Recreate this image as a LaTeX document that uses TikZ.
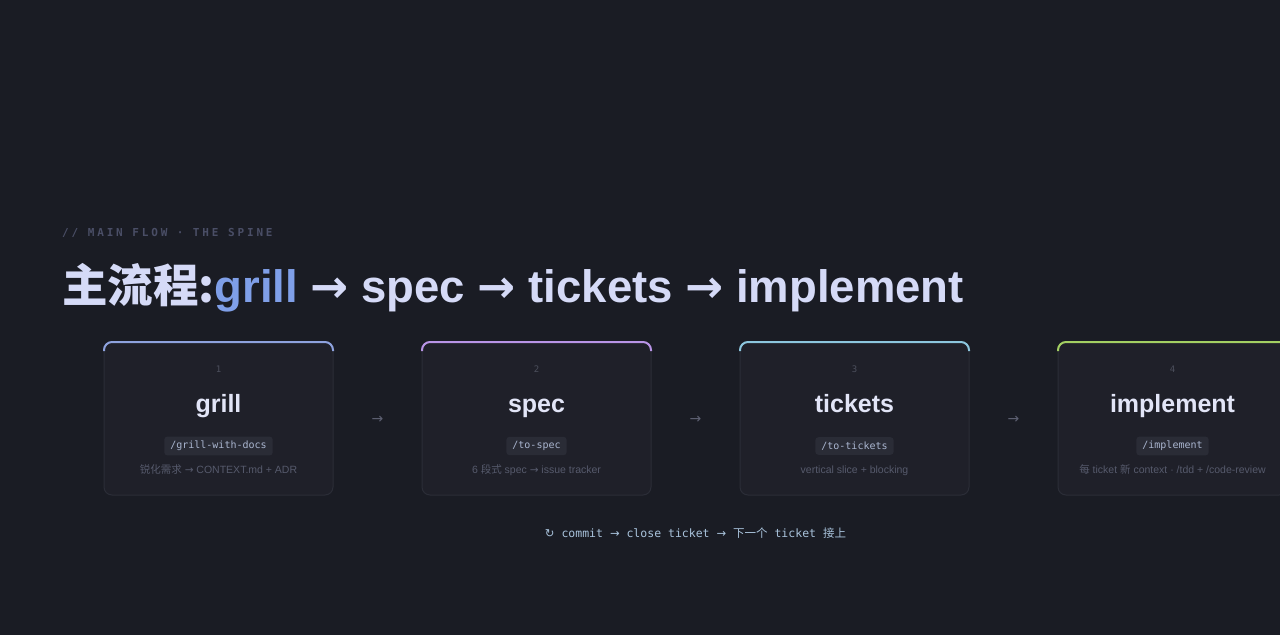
\documentclass[tikz,border=0pt]{standalone}
\usepackage{fontspec}
\usetikzlibrary{calc}
\setmainfont{Liberation Sans}
\newfontfamily\cjk{Noto Sans CJK SC}
\newfontfamily\mono{DejaVu Sans Mono}
\newfontfamily\monols{DejaVu Sans Mono}[LetterSpace=26]
\newfontfamily\dv{DejaVu Sans}
\definecolor{bg}{HTML}{1A1C24}
\definecolor{cardfill}{HTML}{1F2029}
\definecolor{cardborder}{HTML}{2B2D37}
\definecolor{accA}{HTML}{8EA2DE}
\definecolor{accB}{HTML}{B894E6}
\definecolor{accC}{HTML}{8CC6DE}
\definecolor{accD}{HTML}{A3CF62}
\definecolor{titlecol}{HTML}{E2E5F7}
\definecolor{headcol}{HTML}{D5DAF7}
\definecolor{grillcol}{HTML}{7F9FE8}
\definecolor{numcol}{HTML}{4C4F5C}
\definecolor{pillfill}{HTML}{2A2C36}
\definecolor{pilltext}{HTML}{AAB6D0}
\definecolor{desccol}{HTML}{565A6C}
\definecolor{arrowcol}{HTML}{5D6072}
\definecolor{labelcol}{HTML}{4A4E66}
\definecolor{bottomcol}{HTML}{A9C3DC}
\tikzset{
  card/.style={draw=cardborder, fill=cardfill, rounded corners=8pt, line width=1pt,
    minimum width=229pt, minimum height=153pt, inner sep=0pt, outer sep=0pt},
  accent/.style={line width=2pt, rounded corners=8pt},
  numtxt/.style={anchor=base, text=numcol, font=\mono\fontsize{9}{10}\selectfont},
  titletxt/.style={anchor=base, text=titlecol, font=\fontsize{25}{28}\selectfont\bfseries},
  pill/.style={fill=pillfill, rounded corners=3pt, inner xsep=6pt, inner ysep=4.5pt,
    text=pilltext, font=\mono\fontsize{10}{11}\selectfont},
  desc/.style={anchor=base, text=desccol, font=\fontsize{10.5}{12}\selectfont},
  gap/.style={text=arrowcol, font=\dv\fontsize{14}{16}\selectfont},
}
\begin{document}
\begin{tikzpicture}[x=1pt,y=-1pt]
\fill[bg] (0,0) rectangle (1280,635);
\useasboundingbox (0,0) rectangle (1280,635);
\clip (0,0) rectangle (1280,635);

% section label
\node[anchor=base west, inner sep=0pt, text=labelcol, font=\monols\bfseries\fontsize{11}{12}\selectfont] (lbl) at (62,236) {// MAIN FLOW · THE SPINE};

% heading
\node[anchor=base west, inner sep=0pt, text=headcol, font=\fontsize{45.5}{52}\selectfont\bfseries] (head) at (62,302)
  {{\cjk\bfseries 主流程:}{\color{grillcol}grill} {\dv\bfseries →} spec {\dv\bfseries →} tickets {\dv\bfseries →} implement};

% cards
\foreach \i/\cx/\acc in {1/218.5/accA, 2/536.5/accB, 3/854.5/accC, 4/1172.5/accD}{
  \node[card] (c\i) at (\cx,418.5) {};
  \draw[accent, draw=\acc] ([yshift=-9pt]c\i.north west) -- (c\i.north west) -- (c\i.north east) -- ([yshift=-9pt]c\i.north east);
  \node[numtxt] (n\i) at (\cx,372) {\i};
}
\node[titletxt] (t1) at (218.5,412) {grill};
\node[titletxt] (t2) at (536.5,412) {spec};
\node[titletxt] (t3) at (854.5,412) {tickets};
\node[titletxt] (t4) at (1172.5,412) {implement};

\node[pill] (p1) at (218.5,446) {/grill-with-docs};
\node[pill] (p2) at (536.5,446) {/to-spec};
\node[pill] (p3) at (854.5,446) {/to-tickets};
\node[pill] (p4) at (1172.5,446) {/implement};

\node[desc] (d1) at (218.5,473) {{\cjk 锐化需求} {\dv →} CONTEXT.md + ADR};
\node[desc] (d2) at (536.5,473) {6 {\cjk 段式} spec {\dv →} issue tracker};
\node[desc] (d3) at (854.5,473) {vertical slice + blocking};
\node[desc] (d4) at (1172.5,473) {{\cjk 每} ticket {\cjk 新} context · /tdd + /code-review};

% arrows between cards
\node[gap] (g12) at ($(c1.east)!0.5!(c2.west)+(0,1)$) {→};
\node[gap] (g23) at ($(c2.east)!0.5!(c3.west)+(0,1)$) {→};
\node[gap] (g34) at ($(c3.east)!0.5!(c4.west)+(0,1)$) {→};

% bottom loop line
\node[text=bottomcol, font=\mono\fontsize{11.5}{13}\selectfont] (loop) at (695.5,533)
  {{\dv ↻} commit {\dv →} close ticket {\dv →} {\cjk 下一个} ticket {\cjk 接上}};
\end{tikzpicture}
\end{document}
